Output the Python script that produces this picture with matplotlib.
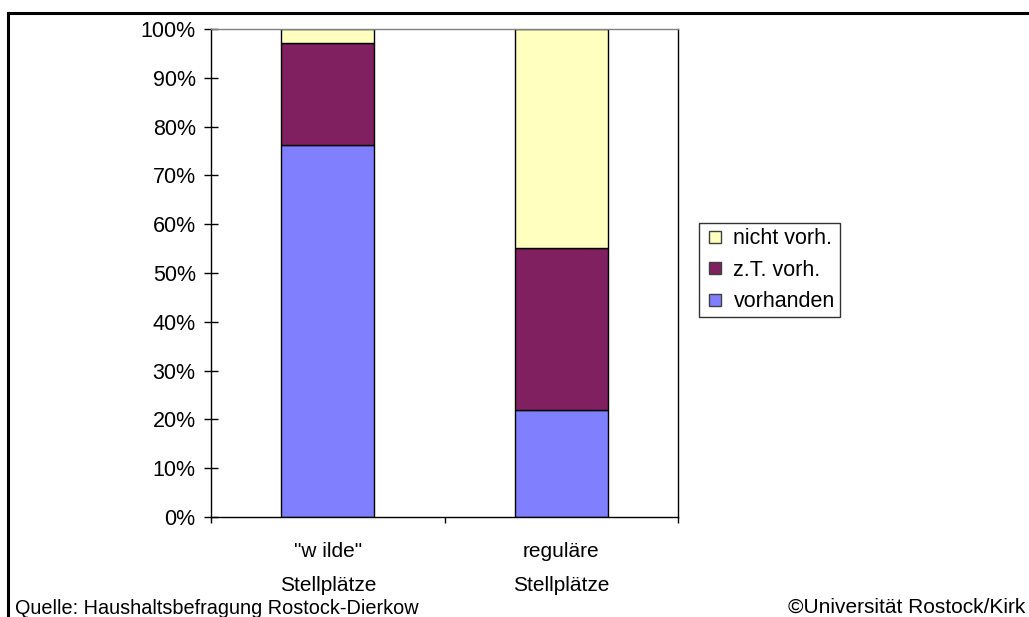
import matplotlib
matplotlib.use("Agg")
import matplotlib.pyplot as plt
from matplotlib.lines import Line2D
import numpy as np

categories = ['"w ilde"\nStellplätze', 'reguläre\nStellplätze']
series_names = ["vorhanden", "z.T. vorh.", "nicht vorh."]
vorhanden = [76.2, 21.9]
zt_vorh = [20.9, 33.2]
nicht_vorh = [2.9, 44.9]
colors = ["#8080FF", "#802060", "#FFFFC0"]
ytick_labels = ["0%", "10%", "20%", "30%", "40%", "50%", "60%", "70%", "80%", "90%", "100%"]

plt.rcParams['font.family'] = ['Liberation Sans', 'DejaVu Sans']

fig = plt.figure(figsize=(10.29, 6.17), dpi=100)
ax = fig.add_axes([211/1029, 100/617, 467/1029, 488/617])

x = np.arange(len(categories)) + 0.5
data = [vorhanden, zt_vorh, nicht_vorh]
bottom = np.zeros(len(categories))
handles = []
for vals, name, col in zip(data, series_names, colors):
    ax.bar(x, vals, width=0.4, bottom=bottom, color=col, edgecolor="black", linewidth=1.0)
    bottom += np.array(vals)
    handles.append(Line2D([], [], linestyle="none", marker="s", markersize=8,
                          markerfacecolor=col, markeredgecolor="#404040",
                          markeredgewidth=1.0, label=name))

ax.set_xlim(0, 2)
ax.set_ylim(0, 100)
ax.set_yticks(np.arange(0, 101, 10))
ax.set_yticklabels(ytick_labels, fontsize=15.5)
ax.tick_params(axis="y", direction="inout", length=10, width=1, pad=6)
ax.set_xticks([0, 1, 2])
ax.set_xticklabels([])
ax.tick_params(axis="x", direction="out", length=4.5, width=1)
for xi, lab in zip(x, categories):
    ax.text(xi, -5.2, lab, ha="center", va="top", fontsize=15, linespacing=2.0,
            transform=ax.transData)

ax.spines["top"].set_color("#808080")
ax.spines["right"].set_color("black")
for s in ax.spines.values():
    s.set_linewidth(1.0)

leg = fig.legend(handles=handles[::-1], loc="upper left", bbox_to_anchor=(699/1029, 1 - 223/617),
                 fontsize=15.5, frameon=True, fancybox=False, edgecolor="black",
                 handlelength=1.0, handletextpad=0.35, borderpad=0.25,
                 labelspacing=0.48, borderaxespad=0)
leg.get_frame().set_linewidth(1.0)

fig.text(15/1029, 1 - 614/617, "Quelle: Haushaltsbefragung Rostock-Dierkow", fontsize=14.3,
         ha="left", va="baseline")
fig.text(1025/1029, 1 - 613/617, "©Universität Rostock/Kirk", fontsize=15.0,
         ha="right", va="baseline")

fig.add_artist(Line2D([8/1029, 8/1029], [0, 1 - 13/617], transform=fig.transFigure,
                      color="black", linewidth=2.2))
fig.add_artist(Line2D([8/1029, 1], [1 - 13/617, 1 - 13/617], transform=fig.transFigure,
                      color="black", linewidth=2.2))

fig.savefig("out.png", dpi=100)
